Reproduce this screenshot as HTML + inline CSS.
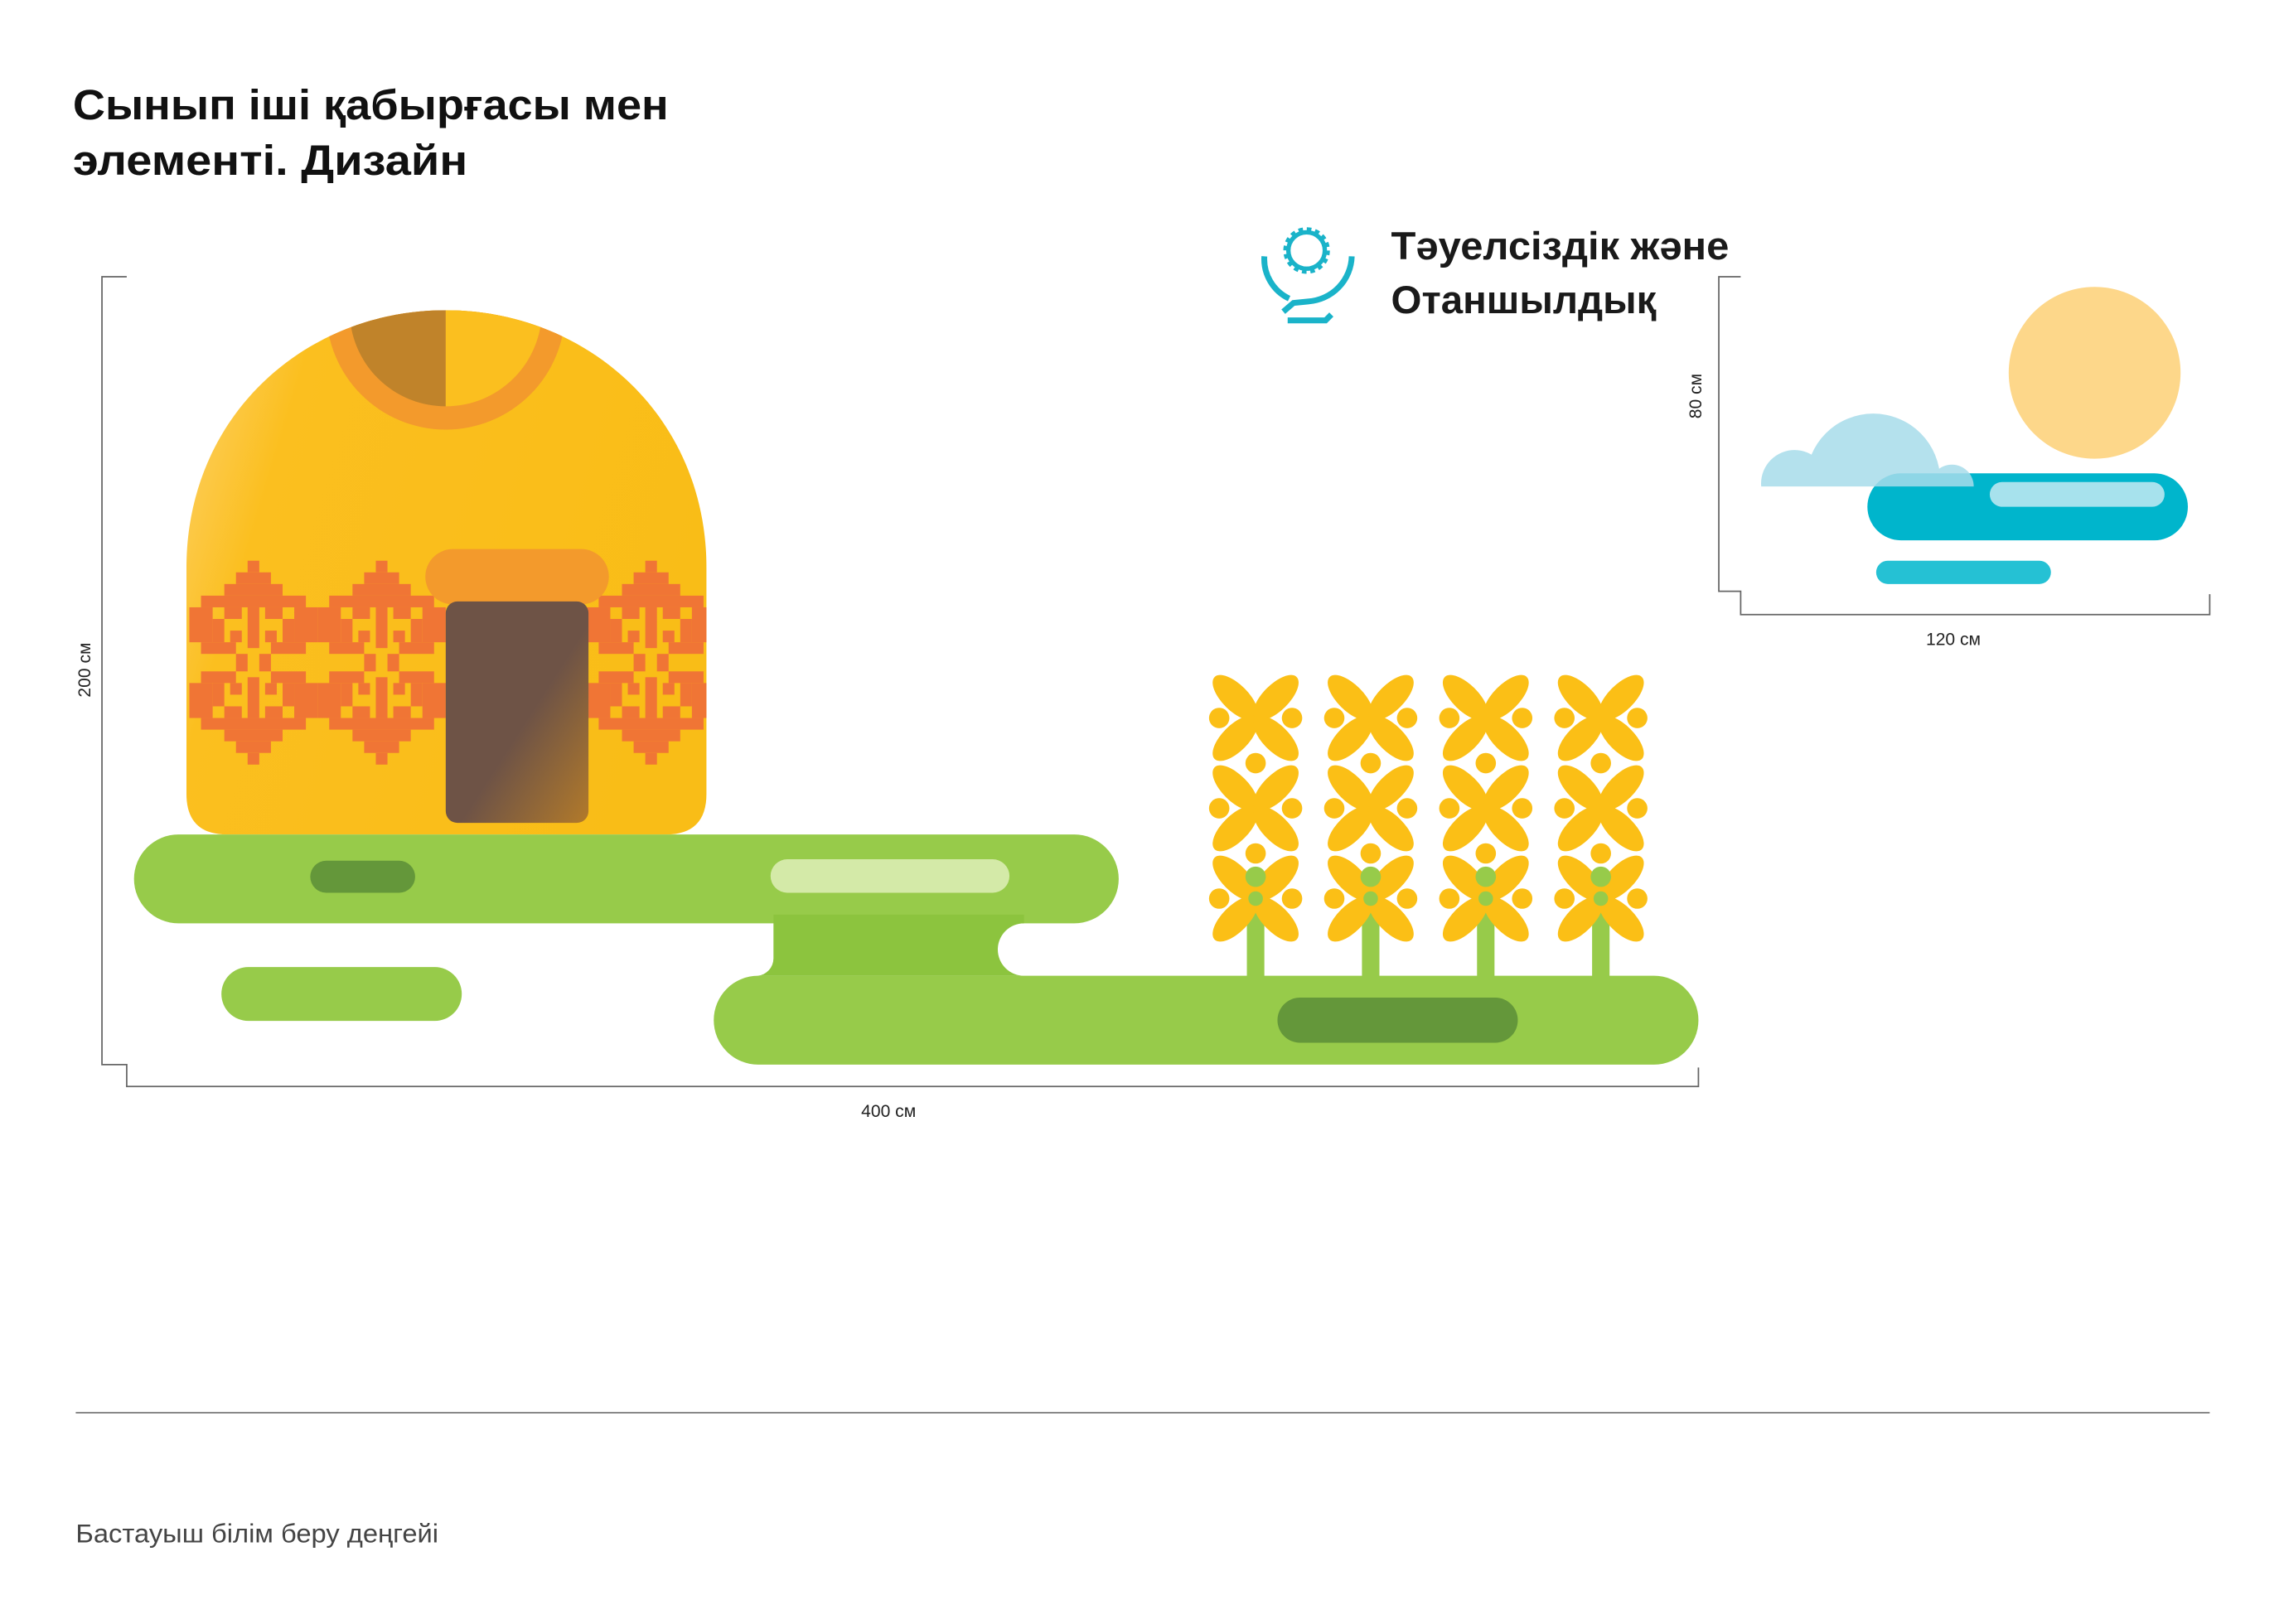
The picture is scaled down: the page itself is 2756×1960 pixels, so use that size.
<!DOCTYPE html>
<html><head><meta charset="utf-8"><style>
html,body{margin:0;padding:0;background:#fff}
svg{display:block}
text{font-family:"Liberation Sans",sans-serif}
</style></head><body>
<svg width="2756" height="1960" viewBox="0 0 1568 1115.1" preserveAspectRatio="none" xmlns="http://www.w3.org/2000/svg">
<defs>
<linearGradient id="yg" x1="0" y1="0" x2="1" y2="0.3">
<stop offset="0" stop-color="#fdd57a"/><stop offset="0.25" stop-color="#fbbf1f"/><stop offset="1" stop-color="#f9bd17"/></linearGradient>
<linearGradient id="dg" x1="0" y1="0" x2="1" y2="1">
<stop offset="0.55" stop-color="#6e5346"/><stop offset="1" stop-color="#b27a2a"/></linearGradient>
<clipPath id="dome"><path d="M128,545 L128,390 C128,285 210,213 306,213 C402,213 485,285 485,390 L485,545 Q485,573 457,573 L156,573 Q128,573 128,545 Z"/></clipPath>
<clipPath id="cl"><rect x="1200" y="270" width="170" height="64"/></clipPath>
<g id="motif" fill="#f07535">
<rect x="-4" y="0" width="8" height="8"/><rect x="-12" y="8" width="24" height="8"/><rect x="-20" y="16" width="40" height="8"/>
<rect x="-36" y="24" width="72" height="8"/><rect x="-44" y="32" width="16" height="24"/><rect x="28" y="32" width="16" height="24"/>
<rect x="-20" y="32" width="12" height="8"/><rect x="8" y="32" width="12" height="8"/><rect x="-4" y="32" width="8" height="28"/>
<rect x="-28" y="40" width="8" height="16"/><rect x="20" y="40" width="8" height="16"/><rect x="-16" y="48" width="8" height="8"/><rect x="8" y="48" width="8" height="8"/>
<rect x="-36" y="56" width="24" height="8"/><rect x="12" y="56" width="24" height="8"/>
<rect x="-12" y="64" width="8" height="12"/><rect x="4" y="64" width="8" height="12"/>
<rect x="-36" y="76" width="24" height="8"/><rect x="12" y="76" width="24" height="8"/><rect x="-4" y="80" width="8" height="28"/>
<rect x="-44" y="84" width="16" height="24"/><rect x="28" y="84" width="16" height="24"/>
<rect x="-28" y="84" width="8" height="16"/><rect x="20" y="84" width="8" height="16"/><rect x="-16" y="84" width="8" height="8"/><rect x="8" y="84" width="8" height="8"/>
<rect x="-20" y="100" width="12" height="8"/><rect x="8" y="100" width="12" height="8"/>
<rect x="-36" y="108" width="72" height="8"/><rect x="-20" y="116" width="40" height="8"/><rect x="-12" y="124" width="24" height="8"/><rect x="-4" y="132" width="8" height="8"/>
</g>
<g id="x4" fill="#fbbf16">
<ellipse cx="-14" cy="-14" rx="9" ry="20" transform="rotate(-45 -14 -14)"/>
<ellipse cx="14" cy="-14" rx="9" ry="20" transform="rotate(45 14 -14)"/>
<ellipse cx="-14" cy="14" rx="9" ry="20" transform="rotate(45 -14 14)"/>
<ellipse cx="14" cy="14" rx="9" ry="20" transform="rotate(-45 14 14)"/>
<circle cx="-25" cy="0" r="7"/><circle cx="25" cy="0" r="7"/>
</g>
<g id="wheat">
<rect x="-6" y="600" width="12" height="72" fill="#97cb4a"/>
<use href="#x4" x="0" y="493"/><use href="#x4" x="0" y="555"/><use href="#x4" x="0" y="617"/>
<circle cx="0" cy="524" r="7" fill="#fbbf16"/><circle cx="0" cy="586" r="7" fill="#fbbf16"/>
<circle cx="0" cy="602" r="7" fill="#97cb4a"/><circle cx="0" cy="617" r="5" fill="#97cb4a"/>
</g>
</defs>

<text x="50" y="82" font-size="29" font-weight="bold" fill="#111" textLength="409" lengthAdjust="spacingAndGlyphs">Сынып іші қабырғасы мен</text>
<text x="50" y="120" font-size="29" font-weight="bold" fill="#111" textLength="271" lengthAdjust="spacingAndGlyphs">элементі. Дизайн</text>

<!-- logo -->
<g fill="none" stroke="#1ab3c9" stroke-width="4" stroke-linecap="butt">
<circle cx="897" cy="172" r="14" stroke-dasharray="3 2.5"/>
<circle cx="897" cy="172" r="12.5" stroke-width="3"/>
<path d="M868,176 A30,30 0 0 0 885,205"/>
<path d="M928,176 A32,32 0 0 1 898,207 L888,208 L881,214"/>
<path d="M884,220 L910,220 L914,216"/>
</g>
<text x="955" y="178" font-size="27" font-weight="bold" fill="#1a1a1a" textLength="232" lengthAdjust="spacingAndGlyphs">Тәуелсіздік және</text>
<text x="955" y="215" font-size="27" font-weight="bold" fill="#1a1a1a" textLength="182" lengthAdjust="spacingAndGlyphs">Отаншылдық</text>

<!-- dimension lines main -->
<g stroke="#666" stroke-width="1" fill="none">
<path d="M87,190 L70,190 L70,731 L87,731 L87,746 L1166,746 L1166,733"/>
<path d="M1195,190 L1180,190 L1180,406 L1195,406 L1195,422 L1517,422 L1517,408"/>
<path d="M52,970 L1517,970" stroke="#777"/>
</g>
<text x="610" y="767" font-size="12" fill="#222" text-anchor="middle">400 см</text>
<text x="62" y="460" font-size="12" fill="#222" text-anchor="middle" transform="rotate(-90 62 460)">200 см</text>
<text x="1341" y="443" font-size="12" fill="#222" text-anchor="middle">120 см</text>
<text x="1168" y="272" font-size="12" fill="#222" text-anchor="middle" transform="rotate(-90 1168 272)">80 см</text>

<!-- yurt -->
<g clip-path="url(#dome)">
<rect x="120" y="200" width="380" height="380" fill="url(#yg)"/>
<circle cx="306" cy="213" r="82" fill="#f39a2c"/>
<path d="M306,213 L240,213 A66,66 0 0 0 306,279 Z" fill="#c0832a"/>
<path d="M306,213 L372,213 A66,66 0 0 1 306,279 Z" fill="#fbbf1f"/>
<use href="#motif" x="174" y="385"/>
<use href="#motif" x="262" y="385"/>
<use href="#motif" x="447" y="385"/>
</g>
<rect x="292" y="377" width="126" height="38" rx="19" fill="#f39a2c"/>
<rect x="306" y="413" width="98" height="152" rx="8" fill="url(#dg)"/>

<!-- ground -->
<g fill="#97cb4a">
<rect x="92" y="573" width="676" height="61" rx="30.5"/>
<path d="M531,628 L703,628 L703,634 A18,18 0 0 0 703,670 L520,670 A12,12 0 0 0 531,658 Z" fill="#8cc43e"/>
<rect x="490" y="670" width="676" height="61" rx="30.5"/>
<rect x="152" y="664" width="165" height="37" rx="18.5"/>
</g>
<rect x="213" y="591" width="72" height="22" rx="11" fill="#64973a"/>
<rect x="529" y="590" width="164" height="23" rx="11.5" fill="#d4eaa8"/>

<!-- wheat -->
<use href="#wheat" x="862"/>
<use href="#wheat" x="941"/>
<use href="#wheat" x="1020"/>
<use href="#wheat" x="1099"/>
<rect x="877" y="685" width="165" height="31" rx="15.5" fill="#64973a"/>

<!-- sky panel -->
<circle cx="1438" cy="256" r="59" fill="#fdd78a"/>
<rect x="1282" y="325" width="220" height="46" rx="23" fill="#00b5cc"/>
<g clip-path="url(#cl)" fill="#a7dcea" opacity="0.85">
<circle cx="1286" cy="330" r="46"/><circle cx="1232" cy="332" r="23"/><circle cx="1340" cy="334" r="15"/>
</g>
<rect x="1366" y="331" width="120" height="17" rx="8.5" fill="#a7e2ed"/>
<rect x="1288" y="385" width="120" height="16" rx="8" fill="#25c1d4"/>

<text x="52" y="1059" font-size="18" fill="#444" textLength="249" lengthAdjust="spacingAndGlyphs">Бастауыш білім беру деңгейі</text>
</svg>
</body></html>
